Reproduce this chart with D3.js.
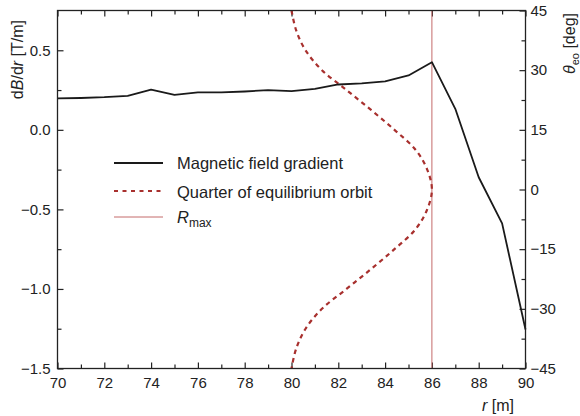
<!DOCTYPE html>
<html>
<head>
<meta charset="utf-8">
<script src="https://cdn.jsdelivr.net/npm/d3@7"></script>
<style>
  html, body { margin: 0; padding: 0; background: #fff; }
  svg { display: block; font-family: "Liberation Sans", Arial, Helvetica, sans-serif; }
  .tick text { fill: #222; }
</style>
</head>
<body>
<svg id="chart" width="580" height="416"></svg>
<script>
// Magnetic field gradient dB/dr (T/m) sampled at each radius r (m)
const radius = [70, 71, 72, 73, 74, 75, 76, 77, 78, 79, 80, 81, 82, 83, 84, 85, 86, 87, 88, 89, 90];
const gradient = [0.198, 0.200, 0.205, 0.214, 0.252, 0.220, 0.235, 0.235, 0.241, 0.250, 0.243, 0.258,
                  0.285, 0.292, 0.305, 0.342, 0.425, 0.132, -0.298, -0.588, -1.255];

// Quarter of the equilibrium orbit: radius r (m) against azimuth θ_eo (deg)
const orbitTheta = [45, 40, 35, 30, 25, 20, 15, 10, 5, 0, -5, -10, -15, -20, -25, -30, -35, -40, -45];
const orbitR = [80.0, 80.2, 80.6, 81.3, 82.35, 83.4, 84.4, 85.3, 85.8, 86.0,
                85.8, 85.3, 84.4, 83.4, 82.35, 81.3, 80.6, 80.2, 80.0];

// Maximum radius
const rMax = 86;

// Tick values
const xMajorTicks = [70, 72, 74, 76, 78, 80, 82, 84, 86, 88, 90];
const xMinorTicks = [71, 73, 75, 77, 79, 81, 83, 85, 87, 89];
const yLeftMajorTicks = [-1.5, -1.0, -0.5, 0.0, 0.5];
const yLeftMinorTicks = [-1.25, -0.75, -0.25, 0.25];
const yRightMajorTicks = [-45, -30, -15, 0, 15, 30, 45];
const yRightMinorTicks = [-37.5, -22.5, -7.5, 7.5, 22.5, 37.5];

// Legend entries
const legendLabels = ["Magnetic field gradient", "Quarter of equilibrium orbit", "R_max"];

const svg = d3.select("#chart");
const plotLeft = 57.5, plotRight = 525.5, plotTop = 10.5, plotBottom = 368.5;

const x = d3.scaleLinear().domain([70, 90]).range([plotLeft, plotRight]);
const yL = d3.scaleLinear().domain([-1.5, 0.75]).range([plotBottom, plotTop]);
const yR = d3.scaleLinear().domain([-45, 45]).range([plotBottom, plotTop]);

const axisColor = "#222";
const majorLen = 6, minorLen = 4;

function styleAxis(g) {
  g.select(".domain").remove();
  g.selectAll(".tick line").attr("stroke", axisColor).attr("stroke-width", 1.2);
  g.selectAll(".tick text").attr("font-size", 15).attr("fill", "#222");
}

// Bottom axis (labelled) with inward ticks
svg.append("g").attr("transform", `translate(0,${plotBottom})`)
  .call(d3.axisBottom(x).tickValues(xMajorTicks).tickSize(-majorLen).tickSizeOuter(0)
    .tickPadding(9).tickFormat(d3.format("d")))
  .call(styleAxis);
svg.append("g").attr("transform", `translate(0,${plotBottom})`)
  .call(d3.axisBottom(x).tickValues(xMinorTicks).tickSize(-minorLen).tickSizeOuter(0).tickFormat(""))
  .call(styleAxis);

// Top axis (ticks only)
svg.append("g").attr("transform", `translate(0,${plotTop})`)
  .call(d3.axisTop(x).tickValues(xMajorTicks).tickSize(-majorLen).tickSizeOuter(0).tickFormat(""))
  .call(styleAxis);
svg.append("g").attr("transform", `translate(0,${plotTop})`)
  .call(d3.axisTop(x).tickValues(xMinorTicks).tickSize(-minorLen).tickSizeOuter(0).tickFormat(""))
  .call(styleAxis);

// Left axis: dB/dr
svg.append("g").attr("transform", `translate(${plotLeft},0)`)
  .call(d3.axisLeft(yL).tickValues(yLeftMajorTicks).tickSize(-majorLen).tickSizeOuter(0)
    .tickPadding(7).tickFormat(d3.format(".1f")))
  .call(styleAxis);
svg.append("g").attr("transform", `translate(${plotLeft},0)`)
  .call(d3.axisLeft(yL).tickValues(yLeftMinorTicks).tickSize(-minorLen).tickSizeOuter(0).tickFormat(""))
  .call(styleAxis);

// Right axis: θ_eo
svg.append("g").attr("transform", `translate(${plotRight},0)`)
  .call(d3.axisRight(yR).tickValues(yRightMajorTicks).tickSize(-majorLen).tickSizeOuter(0)
    .tickPadding(5).tickFormat(d3.format("d")))
  .call(styleAxis);
svg.append("g").attr("transform", `translate(${plotRight},0)`)
  .call(d3.axisRight(yR).tickValues(yRightMinorTicks).tickSize(-minorLen).tickSizeOuter(0).tickFormat(""))
  .call(styleAxis);

// R_max marker
svg.append("line")
  .attr("x1", x(rMax)).attr("x2", x(rMax))
  .attr("y1", plotTop).attr("y2", plotBottom)
  .attr("stroke", "#c46a6a").attr("stroke-width", 1);

// Equilibrium orbit (dashed)
const orbit = orbitTheta.map((t, i) => ({ theta: t, r: orbitR[i] }));
svg.append("path")
  .datum(orbit)
  .attr("fill", "none")
  .attr("stroke", "#a8302e")
  .attr("stroke-width", 2.2)
  .attr("stroke-dasharray", "4.5,4")
  .attr("d", d3.line().x(d => x(d.r)).y(d => yR(d.theta)).curve(d3.curveCatmullRom.alpha(0.5)));

// Magnetic field gradient (solid)
const grad = radius.map((r, i) => ({ r, g: gradient[i] }));
svg.append("path")
  .datum(grad)
  .attr("fill", "none")
  .attr("stroke", "#1a1a1a")
  .attr("stroke-width", 1.8)
  .attr("stroke-linejoin", "round")
  .attr("d", d3.line().x(d => x(d.r)).y(d => yL(d.g)));

// Plot frame
svg.append("rect")
  .attr("x", plotLeft).attr("y", plotTop)
  .attr("width", plotRight - plotLeft).attr("height", plotBottom - plotTop)
  .attr("fill", "none").attr("stroke", axisColor).attr("stroke-width", 1.3);

// Axis titles
const leftTitle = svg.append("text")
  .attr("transform", "translate(23,20) rotate(-90)")
  .attr("text-anchor", "end")
  .attr("font-size", 16).attr("fill", "#222");
leftTitle.append("tspan").text("d");
leftTitle.append("tspan").attr("font-style", "italic").text("B");
leftTitle.append("tspan").text("/d");
leftTitle.append("tspan").attr("font-style", "italic").text("r");
leftTitle.append("tspan").text(" [T/m]");

const rightTitle = svg.append("text")
  .attr("transform", "translate(575,13) rotate(-90)")
  .attr("text-anchor", "end")
  .attr("font-size", 16).attr("fill", "#222");
rightTitle.append("tspan").attr("font-style", "italic").text("θ");
rightTitle.append("tspan").attr("font-size", 11).attr("dy", 4).text("eo");
rightTitle.append("tspan").attr("dy", -4).text(" [deg]");

const bottomTitle = svg.append("text")
  .attr("x", 514).attr("y", 411)
  .attr("text-anchor", "end")
  .attr("font-size", 16).attr("fill", "#222");
bottomTitle.append("tspan").attr("font-style", "italic").text("r");
bottomTitle.append("tspan").text(" [m]");

// Legend
const legend = svg.append("g");
const rowY = [163, 191, 217];
const textY = [168.5, 197.5, 223];
const lx1 = 114, lx2 = 163, tx = 177;

legend.append("line").attr("x1", lx1).attr("x2", lx2).attr("y1", rowY[0]).attr("y2", rowY[0])
  .attr("stroke", "#1a1a1a").attr("stroke-width", 1.8);
legend.append("line").attr("x1", lx1).attr("x2", lx2).attr("y1", rowY[1]).attr("y2", rowY[1])
  .attr("stroke", "#a8302e").attr("stroke-width", 2.2).attr("stroke-dasharray", "4,4.5");
legend.append("line").attr("x1", lx1).attr("x2", lx2).attr("y1", rowY[2]).attr("y2", rowY[2])
  .attr("stroke", "#c46a6a").attr("stroke-width", 1);

legend.append("text").attr("x", tx).attr("y", textY[0]).attr("font-size", 16.5).attr("fill", "#222")
  .text(legendLabels[0]);
legend.append("text").attr("x", tx).attr("y", textY[1]).attr("font-size", 16.5).attr("fill", "#222")
  .text(legendLabels[1]);
const rmaxText = legend.append("text").attr("x", tx).attr("y", textY[2]).attr("font-size", 16.5).attr("fill", "#222");
const [rmMain, rmSub] = legendLabels[2].split("_");
rmaxText.append("tspan").attr("font-style", "italic").text(rmMain);
rmaxText.append("tspan").attr("font-size", 12).attr("dy", 4).text(rmSub);
</script>
</body>
</html>
